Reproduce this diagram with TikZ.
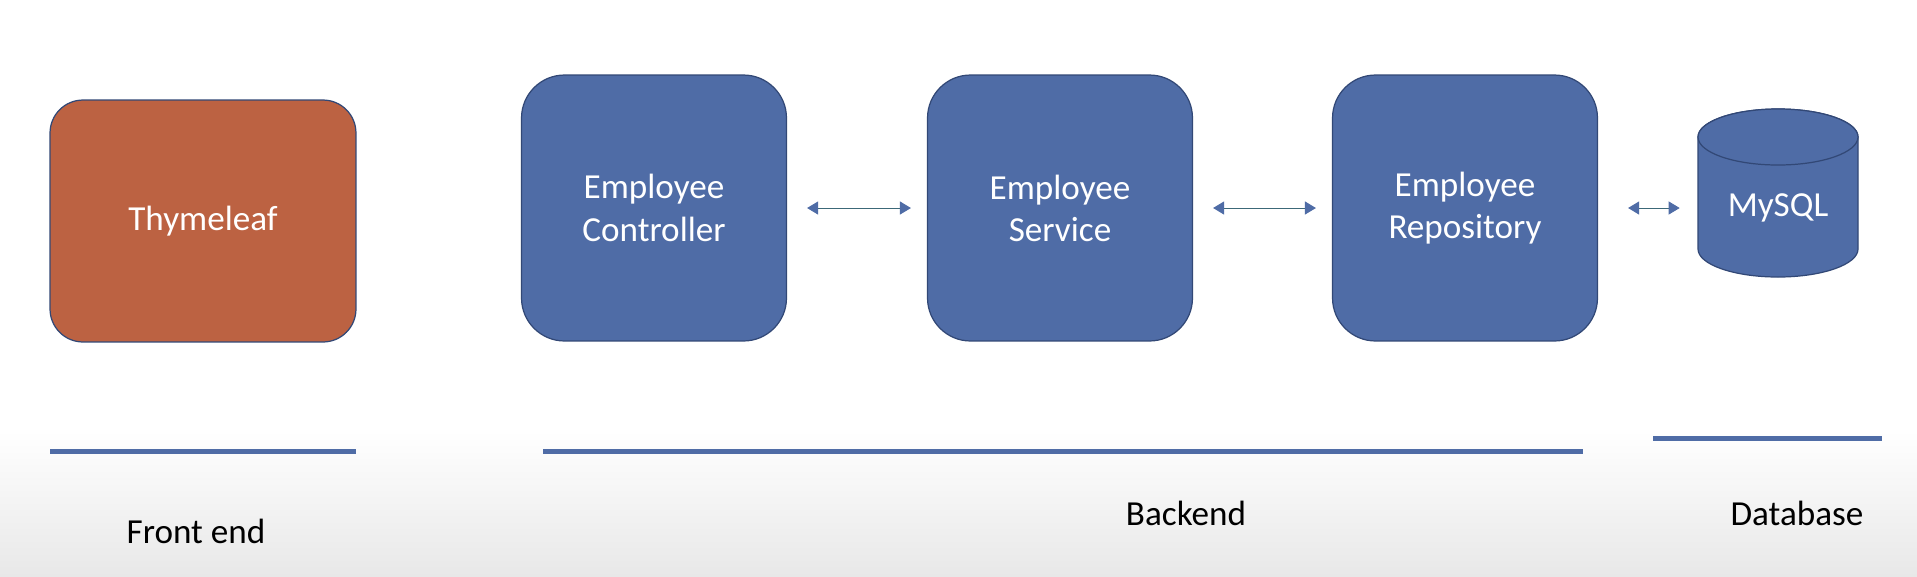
\documentclass[tikz,border=0pt]{standalone}
\usepackage{fontspec}
\setmainfont{Carlito}
\usetikzlibrary{arrows.meta}
\definecolor{boxblue}{RGB}{79,108,166}
\definecolor{boxedge}{RGB}{50,72,118}
\definecolor{leafred}{RGB}{188,98,66}
\definecolor{arrowline}{RGB}{60,104,120}

\begin{document}
\begin{tikzpicture}[x=0.02cm,y=0.02cm,
  layer/.style={rectangle,rounded corners=0.86cm,fill=boxblue,draw=boxedge,line width=0.7pt,
    text=white,align=center,minimum width=5.3cm,minimum height=5.32cm,
    font=\fontsize{20}{24}\selectfont},
  viewbox/.style={layer,fill=leafred,rounded corners=0.66cm,minimum width=6.12cm,minimum height=4.84cm},
  link/.style={{Triangle[length=2.2mm,width=2.6mm,color=boxblue]}-{Triangle[length=2.2mm,width=2.6mm,color=boxblue]},
    draw=arrowline,line width=0.5pt,shorten <=0.4cm,shorten >=0.32cm},
  tier/.style={draw=boxblue,line width=0.1cm},
  tiername/.style={font=\fontsize{20}{24}\selectfont}]
\useasboundingbox (0,0) rectangle (1917,-576);
\fill[white] (0,0) rectangle (1917,-576);
\fill[top color=white,bottom color=gray!18] (0,-430) rectangle (1917,-576);

\node[viewbox] (thyme) at (203,-221) {Thymeleaf};
\node[layer] (ctrl) at (654,-208) {Employee\\Controller};
\node[layer] (serv) at (1060,-208) {Employee\\Service};
\node[layer] (repo) at (1465,-208) {Employee\\Repository};

\draw[fill=boxblue,draw=boxedge,line width=0.7pt] (1698,-137) -- (1698,-249) arc (180:360:80 and 28) -- (1858,-137) arc (0:180:80 and 28) -- cycle;
\draw[fill=boxblue,draw=boxedge,line width=0.7pt] (1778,-137) ellipse (80 and 28);
\node[inner sep=0pt,minimum width=3.2cm,minimum height=1cm,text=white,font=\fontsize{20}{24}\selectfont] (db) at (1778,-208) {MySQL};

\draw[link] (ctrl) -- (serv);
\draw[link] (serv) -- (repo);
\draw[link,shorten <=0.6cm,shorten >=0.36cm] (repo) -- (db);

\draw[tier] (50,-451) -- (356,-451);
\draw[tier] (543,-451) -- (1583,-451);
\draw[tier] (1653,-438) -- (1882,-438);

\node[tiername] (front) at (196,-531) {Front end};
\node[tiername] (back) at (1186,-513) {Backend};
\node[tiername] (data) at (1797,-513) {Database};
\end{tikzpicture}
\end{document}
